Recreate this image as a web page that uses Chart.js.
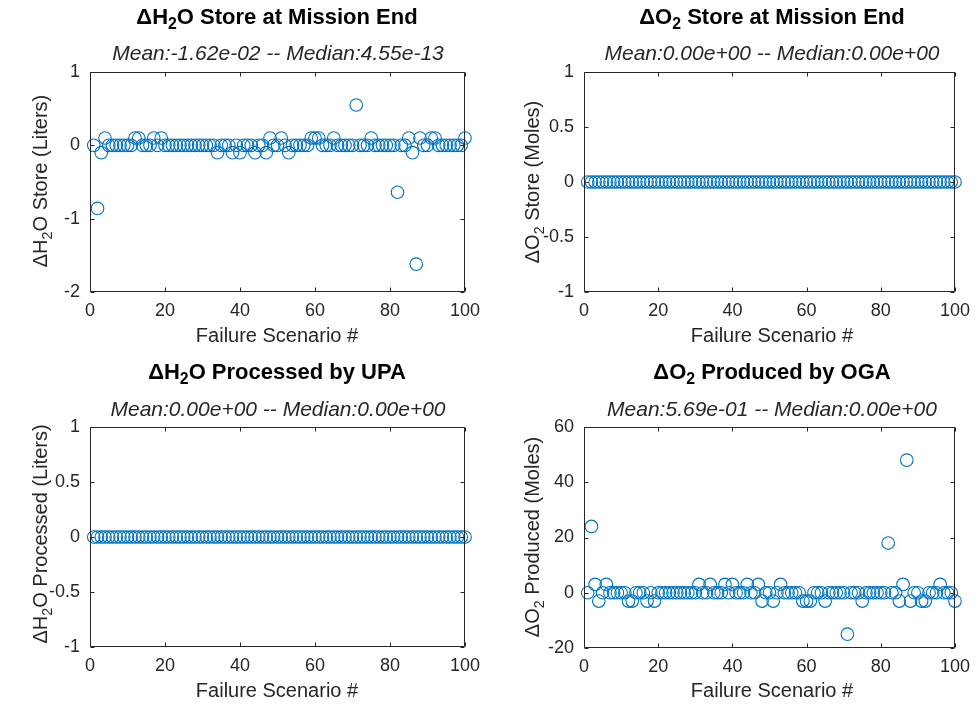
<!DOCTYPE html>
<html>
<head>
<meta charset="utf-8">
<script src="https://cdn.jsdelivr.net/npm/chart.js@4/dist/chart.umd.min.js"></script>
<style>
    body { margin: 0; background: #fff; width: 978px; height: 712px; position: relative; overflow: hidden;
           font-family: "Liberation Sans", Arial, sans-serif; color: #262626; }
    canvas { position: absolute; }
    .txt { position: absolute; white-space: nowrap; transform: translate(-50%, -50%); line-height: 1; }
    .title { font-weight: bold; font-size: 22px; color: #000; }
    .subtitle { font-style: italic; font-size: 21px; }
    .xlabel { font-size: 20px; }
    .ylabel { font-size: 20px; transform: translate(-50%, -50%) rotate(-90deg); }
    sub { font-size: 0.72em; vertical-align: -0.32em; line-height: 0; }
</style>
</head>
<body>

<canvas id="c0" width="489" height="356" style="left:0;top:0"></canvas>
<canvas id="c1" width="489" height="356" style="left:489px;top:0"></canvas>
<canvas id="c2" width="489" height="356" style="left:0;top:356px"></canvas>
<canvas id="c3" width="489" height="356" style="left:489px;top:356px"></canvas>

<div class="txt title" style="left:277px;top:17px">&Delta;H<sub>2</sub>O Store at Mission End</div>
<div class="txt subtitle" style="left:278px;top:52px">Mean:-1.62e-02 -- Median:4.55e-13</div>
<div class="txt title" style="left:772px;top:17px">&Delta;O<sub>2</sub> Store at Mission End</div>
<div class="txt subtitle" style="left:772px;top:52px">Mean:0.00e+00 -- Median:0.00e+00</div>
<div class="txt title" style="left:277px;top:372px">&Delta;H<sub>2</sub>O Processed by UPA</div>
<div class="txt subtitle" style="left:278px;top:408px">Mean:0.00e+00 -- Median:0.00e+00</div>
<div class="txt title" style="left:772px;top:372px">&Delta;O<sub>2</sub> Produced by OGA</div>
<div class="txt subtitle" style="left:772px;top:408px">Mean:5.69e-01 -- Median:0.00e+00</div>

<div class="txt ylabel" style="left:40px;top:181px">&Delta;H<sub>2</sub>O Store (Liters)</div>
<div class="txt ylabel" style="left:532px;top:182px">&Delta;O<sub>2</sub> Store (Moles)</div>
<div class="txt ylabel" style="left:40px;top:534px">&Delta;H<sub>2</sub>O Processed (Liters)</div>
<div class="txt ylabel" style="left:532px;top:537px">&Delta;O<sub>2</sub> Produced (Moles)</div>

<div class="txt xlabel" style="left:277px;top:335px">Failure Scenario #</div>
<div class="txt xlabel" style="left:772px;top:335px">Failure Scenario #</div>
<div class="txt xlabel" style="left:277px;top:690px">Failure Scenario #</div>
<div class="txt xlabel" style="left:772px;top:690px">Failure Scenario #</div>

<script>
// failure scenario numbers (x)
const scenarios = [
    1, 2, 3, 4, 5, 6, 7, 8, 9, 10, 11, 12, 13, 14, 15, 16, 17, 18, 19, 20,
    21, 22, 23, 24, 25, 26, 27, 28, 29, 30, 31, 32, 33, 34, 35, 36, 37, 38, 39, 40,
    41, 42, 43, 44, 45, 46, 47, 48, 49, 50, 51, 52, 53, 54, 55, 56, 57, 58, 59, 60,
    61, 62, 63, 64, 65, 66, 67, 68, 69, 70, 71, 72, 73, 74, 75, 76, 77, 78, 79, 80,
    81, 82, 83, 84, 85, 86, 87, 88, 89, 90, 91, 92, 93, 94, 95, 96, 97, 98, 99, 100
];

// delta H2O store at mission end (liters)
const h2oStore = [
    0, -0.86, -0.1, 0.1, 0, 0, 0, 0, 0, 0, 0, 0.1, 0.1, 0, 0, 0, 0.1, 0, 0.1, 0,
    0, 0, 0, 0, 0, 0, 0, 0, 0, 0, 0, 0, 0, -0.1, 0, 0, 0, -0.1, 0, -0.1,
    0, 0, 0, -0.1, 0, 0, -0.1, 0.1, 0, 0, 0.1, 0, -0.1, 0, 0, 0, 0, 0, 0.1, 0.1,
    0.1, 0, 0, 0, 0.1, 0, 0, 0, 0, 0, 0.55, 0, 0, 0, 0.1, 0, 0, 0, 0, 0,
    0, -0.64, 0, 0, 0.1, -0.1, -1.62, 0.1, 0, 0, 0.1, 0.1, 0, 0, 0, 0, 0, 0, 0, 0.1
];

// delta O2 store at mission end (moles)
const o2Store = [
    0, 0, 0, 0, 0, 0, 0, 0, 0, 0, 0, 0, 0, 0, 0, 0, 0, 0, 0, 0,
    0, 0, 0, 0, 0, 0, 0, 0, 0, 0, 0, 0, 0, 0, 0, 0, 0, 0, 0, 0,
    0, 0, 0, 0, 0, 0, 0, 0, 0, 0, 0, 0, 0, 0, 0, 0, 0, 0, 0, 0,
    0, 0, 0, 0, 0, 0, 0, 0, 0, 0, 0, 0, 0, 0, 0, 0, 0, 0, 0, 0,
    0, 0, 0, 0, 0, 0, 0, 0, 0, 0, 0, 0, 0, 0, 0, 0, 0, 0, 0, 0
];

// delta H2O processed by UPA (liters)
const h2oProcessed = [
    0, 0, 0, 0, 0, 0, 0, 0, 0, 0, 0, 0, 0, 0, 0, 0, 0, 0, 0, 0,
    0, 0, 0, 0, 0, 0, 0, 0, 0, 0, 0, 0, 0, 0, 0, 0, 0, 0, 0, 0,
    0, 0, 0, 0, 0, 0, 0, 0, 0, 0, 0, 0, 0, 0, 0, 0, 0, 0, 0, 0,
    0, 0, 0, 0, 0, 0, 0, 0, 0, 0, 0, 0, 0, 0, 0, 0, 0, 0, 0, 0,
    0, 0, 0, 0, 0, 0, 0, 0, 0, 0, 0, 0, 0, 0, 0, 0, 0, 0, 0, 0
];

// delta O2 produced by OGA (moles)
const o2Produced = [
    0, 24, 3, -3, 0, 3, 0, 0, 0, 0, 0, -3, -3, 0, 0, 0, -3, 0, -3, 0,
    0, 0, 0, 0, 0, 0, 0, 0, 0, 0, 3, 0, 0, 3, 0, 0, 0, 3, 0, 3,
    0, 0, 0, 3, 0, 0, 3, -3, 0, 0, -3, 0, 3, 0, 0, 0, 0, 0, -3, -3,
    -3, 0, 0, 0, -3, 0, 0, 0, 0, 0, -15, 0, 0, 0, -3, 0, 0, 0, 0, 0,
    0, 18, 0, 0, -3, 3, 48, -3, 0, 0, -3, -3, 0, 0, 0, 3, 0, 0, 0, -3
];

// tick values per axis
const xTicks = [0, 20, 40, 60, 80, 100];
const yTicksH2oStore = [-2, -1, 0, 1];
const yTicksHalf = [-1, -0.5, 0, 0.5, 1];
const yTicksO2Produced = [-20, 0, 20, 40, 60];

const MARKER = '#0072BD';
const AXIS = '#262626';
const FONT = "'Liberation Sans', Arial, sans-serif";

// box around the axes with MATLAB-style inward ticks on all four sides
const framePlugin = {
    id: 'frame',
    afterDraw(chart) {
        const { ctx, chartArea: a, scales } = chart;
        const len = 4;
        const L = Math.round(a.left) + 0.5, R = Math.round(a.right) - 0.5;
        const T = Math.round(a.top) + 0.5, B = Math.round(a.bottom) - 0.5;
        ctx.save();
        ctx.strokeStyle = AXIS;
        ctx.lineWidth = 1;
        ctx.beginPath();
        ctx.rect(L, T, R - L, B - T);
        scales.x.ticks.forEach(t => {
            const px = Math.round(scales.x.getPixelForValue(t.value)) + 0.5;
            ctx.moveTo(px, B); ctx.lineTo(px, B - len);
            ctx.moveTo(px, T); ctx.lineTo(px, T + len);
        });
        scales.y.ticks.forEach(t => {
            const py = Math.round(scales.y.getPixelForValue(t.value)) + 0.5;
            ctx.moveTo(L, py); ctx.lineTo(L + len, py);
            ctx.moveTo(R, py); ctx.lineTo(R - len, py);
        });
        ctx.stroke();
        ctx.restore();
    }
};

function buildPanel(canvasId, values, yTicks, area) {
    const canvas = document.getElementById(canvasId);
    const points = scenarios.map((s, i) => ({ x: s, y: values[i] }));

    return new Chart(canvas.getContext('2d'), {
        type: 'scatter',
        data: {
            datasets: [{
                data: points,
                pointStyle: 'circle',
                pointRadius: 6.3,
                pointHoverRadius: 6.3,
                pointBorderWidth: 1.1,
                borderColor: MARKER,
                backgroundColor: 'rgba(0,0,0,0)',
                clip: false
            }]
        },
        options: {
            responsive: false,
            animation: false,
            events: [],
            layout: {
                padding: { top: area.top, right: canvas.width - area.right, left: 0, bottom: 0 }
            },
            plugins: {
                legend: { display: false },
                tooltip: { enabled: false }
            },
            scales: {
                x: {
                    type: 'linear',
                    min: xTicks[0],
                    max: xTicks[xTicks.length - 1],
                    afterFit: scale => { scale.height = canvas.height - area.bottom; },
                    afterBuildTicks: scale => { scale.ticks = xTicks.map(v => ({ value: v })); },
                    grid: { display: false, drawTicks: false },
                    border: { display: false },
                    ticks: {
                        padding: 8,
                        color: AXIS,
                        font: { family: FONT, size: 18 },
                        callback: v => String(v)
                    }
                },
                y: {
                    type: 'linear',
                    min: yTicks[0],
                    max: yTicks[yTicks.length - 1],
                    afterFit: scale => { scale.width = area.left; },
                    afterBuildTicks: scale => { scale.ticks = yTicks.map(v => ({ value: v })); },
                    grid: { display: false, drawTicks: false },
                    border: { display: false },
                    ticks: {
                        padding: 10,
                        color: AXIS,
                        font: { family: FONT, size: 18 },
                        callback: v => String(v)
                    }
                }
            }
        },
        plugins: [framePlugin]
    });
}

// plot areas are given in canvas coordinates
buildPanel('c0', h2oStore, yTicksH2oStore, { left: 90, right: 465, top: 72, bottom: 292 });
buildPanel('c1', o2Store, yTicksHalf, { left: 95, right: 470, top: 72, bottom: 292 });
buildPanel('c2', h2oProcessed, yTicksHalf, { left: 90, right: 465, top: 71, bottom: 291 });
buildPanel('c3', o2Produced, yTicksO2Produced, { left: 95, right: 470, top: 71, bottom: 292 });
</script>
</body>
</html>
